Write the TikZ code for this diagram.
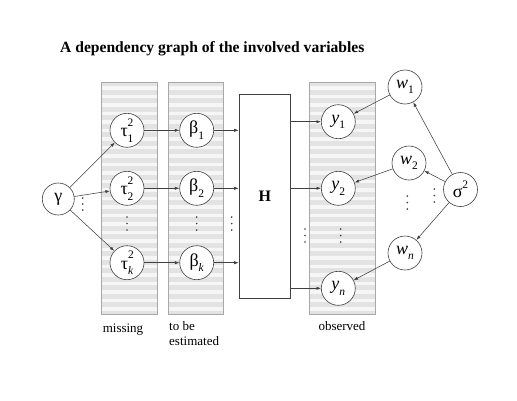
\documentclass[tikz,border=0pt]{standalone}
\usepackage{fontspec}
\setmainfont{Liberation Serif}
\usetikzlibrary{arrows.meta}
\definecolor{ln}{HTML}{404040}
\definecolor{pfill}{HTML}{E3E3E3}
\definecolor{pstripe}{HTML}{F6F6F6}
\definecolor{pedge}{HTML}{A8A8A8}
\newcommand{\supsub}[2]{\rlap{\raisebox{0.6em}{\fontsize{11.5}{11.5}\selectfont #1}}\raisebox{-0.3em}{\fontsize{11.5}{11.5}\selectfont #2}}
\newcommand{\subonly}[1]{\raisebox{-0.3em}{\fontsize{11.5}{11.5}\selectfont #1}}
\newcommand{\vdotsx}[3]{\foreach \k in {0,1,2} {\fill[ln] (#1,#2+\k*#3) circle (0.95);}}
\begin{document}
\begin{tikzpicture}[x=1pt,y=-1pt,
  var/.style={circle,draw=ln,line width=0.6pt,fill=white,minimum size=34pt,inner sep=0pt,font=\fontsize{18}{18}\selectfont},
  arr/.style={draw=ln,line width=0.55pt,-{Latex[length=4.5pt,width=3.2pt]}},
  lbl/.style={font=\fontsize{13}{15}\selectfont,inner sep=0pt}]
\useasboundingbox (0,0) rectangle (517,400);
\fill[white] (0,0) rectangle (517,400);
% title
\node[anchor=base west,inner sep=0pt,font=\fontsize{15.6}{18}\bfseries] (title) at (60,52) {A dependency graph of the involved variables};
% panels with stripes
\foreach \xa/\xb in {101.7/157.7, 168.3/223.7, 309.3/375.7} {
  \fill[pfill] (\xa,82) rectangle (\xb,314);
  \foreach \s in {0,...,26} {\fill[pstripe] (\xa,86+\s*8.5) rectangle (\xb,89.5+\s*8.5);}
  \draw[pedge,line width=0.6pt] (\xa,82) rectangle (\xb,314);
}
% H box
\node[draw=ln,line width=0.6pt,fill=white,minimum width=51.7pt,minimum height=204pt,inner sep=0pt,font=\fontsize{16}{16}\bfseries] (H) at (264.85,196) {H};
% nodes
\node[var,minimum size=32pt] (g) at (58.3,199) {γ};
\node[var] (t1) at (127,130.3) {τ\supsub{2}{1}};
\node[var] (t2) at (127,188.3) {τ\supsub{2}{2}};
\node[var] (tk) at (127,262.7) {τ\supsub{2}{\itshape k}};
\node[var] (b1) at (196.7,130.3) {β\subonly{1}};
\node[var] (b2) at (196.7,188.3) {β\subonly{2}};
\node[var] (bk) at (196.7,262.7) {β\subonly{\itshape k}};
\node[var] (y1) at (338.3,121.7) {\itshape y\subonly{\upshape 1}};
\node[var] (y2) at (338.3,188.3) {\itshape y\subonly{\upshape 2}};
\node[var] (yn) at (338.3,288.3) {\itshape y\subonly{n}};
\node[var] (w1) at (405,87) {\itshape w\subonly{\upshape 1}};
\node[var] (w2) at (409,163) {\itshape w\subonly{\upshape 2}};
\node[var] (wn) at (405,253) {\itshape w\subonly{n}};
\node[var] (s) at (460.5,189.5) {σ\raisebox{0.5em}{\fontsize{11.5}{11.5}\selectfont 2}};
% coordinates for arrow ends on H
\coordinate (hb1) at (H.west |- b1);
\coordinate (hb2) at (H.west |- b2);
\coordinate (hbk) at (H.west |- bk);
\coordinate (hy1) at (H.east |- y1);
\coordinate (hy2) at (H.east |- y2);
\coordinate (hyn) at (H.east |- yn);
% connectors
\draw[arr] (g) -- (t1);
\draw[arr] (g) -- (t2);
\draw[arr] (g) -- (tk);
\draw[arr] (t1) -- (b1);
\draw[arr] (t2) -- (b2);
\draw[arr] (tk) -- (bk);
\draw[arr] (b1) -- (hb1);
\draw[arr] (b2) -- (hb2);
\draw[arr] (bk) -- (hbk);
\draw[arr] (hy1) -- (y1);
\draw[arr] (hy2) -- (y2);
\draw[arr] (hyn) -- (yn);
\draw[arr] (w1) -- (y1);
\draw[arr] (w2) -- (y2);
\draw[arr] (wn) -- (yn);
\draw[arr] (s) -- (w1);
\draw[arr] (s) -- (w2);
\draw[arr] (s) -- (wn);
% ellipses
\vdotsx{82.7}{198}{6}
\vdotsx{127}{217}{6.5}
\vdotsx{196.7}{217}{6.5}
\vdotsx{231.7}{217}{6.5}
\vdotsx{305}{229}{6.5}
\vdotsx{340.7}{229}{6.5}
\vdotsx{407.3}{196}{6.5}
\vdotsx{434.3}{189}{6.5}
% labels
\node[lbl,anchor=base] (lm) at (123,332) {missing};
\node[lbl,anchor=base west] (le1) at (169,330) {to be};
\node[lbl,anchor=base west] (le2) at (169,345) {estimated};
\node[lbl,anchor=base] (lo) at (342,330) {observed};
\end{tikzpicture}
\end{document}
